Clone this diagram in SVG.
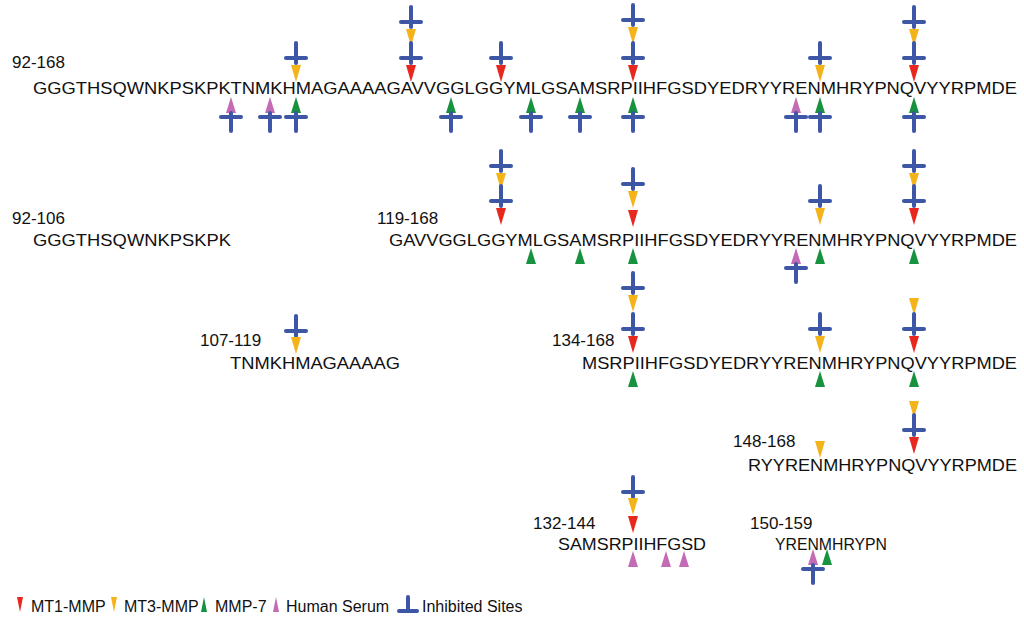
<svg xmlns="http://www.w3.org/2000/svg" xmlns:xlink="http://www.w3.org/1999/xlink" width="1024" height="619" viewBox="0 0 1024 619">
<style>
text{font-family:"Liberation Sans",Arial,sans-serif;fill:#111;}
.seq{font-size:17px;}
.lab{font-size:17px;}
.leg{font-size:16px;}
.inh{stroke:#3d56a6;stroke-width:4;stroke-linecap:round;fill:none;}
</style>
<defs>
<polygon id="dR" points="-5,0 5,0 0,17" fill="#e8271f"/>
<polygon id="dY" points="-5,0 5,0 0,17" fill="#f5b31a"/>
<polygon id="uG" points="-5,16 5,16 0,0" fill="#17923e"/>
<polygon id="uP" points="-5,16 5,16 0,0" fill="#c46bb5"/>
<g id="iA" class="inh"><line x1="0" y1="-15" x2="0" y2="5"/><line x1="-10" y1="0" x2="10" y2="0"/></g>
<g id="iB" class="inh"><line x1="0" y1="-4" x2="0" y2="14"/><line x1="-10" y1="0" x2="10" y2="0"/></g>
</defs>
<rect width="1024" height="619" fill="#fff"/>

<g id="row1">
<text class="lab" x="12" y="68">92-168</text>
<text class="seq" x="33" y="94" textLength="984" lengthAdjust="spacingAndGlyphs">GGGTHSQWNKPSKPKTNMKHMAGAAAAGAVVGGLGGYMLGSAMSRPIIHFGSDYEDRYYRENMHRYPNQVYYRPMDE</text>
</g>
<g id="row2a">
<text class="lab" x="12" y="224">92-106</text>
<text class="seq" x="33" y="246" textLength="198" lengthAdjust="spacingAndGlyphs">GGGTHSQWNKPSKPK</text>
</g>
<g id="row2b">
<text class="lab" x="377" y="224">119-168</text>
<text class="seq" x="389" y="246" textLength="628" lengthAdjust="spacingAndGlyphs">GAVVGGLGGYMLGSAMSRPIIHFGSDYEDRYYRENMHRYPNQVYYRPMDE</text>
</g>
<g id="row3a">
<text class="lab" x="200" y="346">107-119</text>
<text class="seq" x="230" y="369" textLength="170" lengthAdjust="spacingAndGlyphs">TNMKHMAGAAAAG</text>
</g>
<g id="row3b">
<text class="lab" x="552" y="346">134-168</text>
<text class="seq" x="582" y="369" textLength="435" lengthAdjust="spacingAndGlyphs">MSRPIIHFGSDYEDRYYRENMHRYPNQVYYRPMDE</text>
</g>
<g id="row4">
<text class="lab" x="733" y="447">148-168</text>
<text class="seq" x="748" y="471" textLength="269" lengthAdjust="spacingAndGlyphs">RYYRENMHRYPNQVYYRPMDE</text>
</g>
<g id="row5a">
<text class="lab" x="533" y="529">132-144</text>
<text class="seq" x="558" y="550" textLength="148" lengthAdjust="spacingAndGlyphs">SAMSRPIIHFGSD</text>
</g>
<g id="row5b">
<text class="lab" x="750" y="529">150-159</text>
<text class="seq" x="775" y="550" textLength="112" lengthAdjust="spacingAndGlyphs">YRENMHRYPN</text>
</g>

<g id="markers">
<use href="#iA" x="296" y="58"/><use href="#dY" x="296" y="65"/>
<use href="#iA" x="411" y="22"/><use href="#dY" x="411" y="29"/>
<use href="#iA" x="411" y="58"/><use href="#dR" x="411" y="65"/>
<use href="#iA" x="501" y="58"/><use href="#dR" x="501" y="65"/>
<use href="#iA" x="633" y="20"/><use href="#dY" x="633" y="27"/>
<use href="#iA" x="633" y="58"/><use href="#dR" x="633" y="65"/>
<use href="#iA" x="820" y="58"/><use href="#dY" x="820" y="65"/>
<use href="#iA" x="914" y="22"/><use href="#dY" x="914" y="29"/>
<use href="#iA" x="914" y="58"/><use href="#dR" x="914" y="65"/>
<use href="#uP" x="231" y="97"/><use href="#iB" x="231" y="117"/>
<use href="#uP" x="270" y="97"/><use href="#iB" x="270" y="117"/>
<use href="#uG" x="296" y="97"/><use href="#iB" x="296" y="117"/>
<use href="#uG" x="451" y="97"/><use href="#iB" x="451" y="117"/>
<use href="#uG" x="531" y="97"/><use href="#iB" x="531" y="117"/>
<use href="#uG" x="580" y="97"/><use href="#iB" x="580" y="117"/>
<use href="#uG" x="633" y="97"/><use href="#iB" x="633" y="117"/>
<use href="#uP" x="796" y="97"/><use href="#iB" x="796" y="117"/>
<use href="#uG" x="820" y="97"/><use href="#iB" x="820" y="117"/>
<use href="#uG" x="914" y="97"/><use href="#iB" x="914" y="117"/>
<use href="#iA" x="501" y="166"/><use href="#dY" x="501" y="173"/>
<use href="#iA" x="501" y="201"/><use href="#dR" x="501" y="208"/>
<use href="#iA" x="633" y="184"/><use href="#dY" x="633" y="191"/>
<use href="#dR" x="633" y="210"/>
<use href="#iA" x="820" y="201"/><use href="#dY" x="820" y="208"/>
<use href="#iA" x="914" y="166"/><use href="#dY" x="914" y="173"/>
<use href="#iA" x="914" y="201"/><use href="#dR" x="914" y="208"/>
<use href="#uG" x="531" y="248"/><use href="#uG" x="580" y="248"/><use href="#uG" x="633" y="248"/>
<use href="#uP" x="796" y="248"/><use href="#iB" x="796" y="268"/>
<use href="#uG" x="820" y="248"/><use href="#uG" x="914" y="248"/>
<use href="#iA" x="296" y="331"/><use href="#dY" x="296" y="337"/>
<use href="#iA" x="633" y="288"/><use href="#dY" x="633" y="295"/>
<use href="#iA" x="633" y="329"/><use href="#dR" x="633" y="336"/>
<use href="#iA" x="820" y="329"/><use href="#dY" x="820" y="336"/>
<use href="#dY" x="914" y="298"/>
<use href="#iA" x="914" y="329"/><use href="#dR" x="914" y="336"/>
<use href="#uG" x="633" y="371"/><use href="#uG" x="820" y="371"/><use href="#uG" x="914" y="371"/>
<use href="#dY" x="820" y="441"/>
<use href="#dY" x="914" y="401"/>
<use href="#iA" x="914" y="430"/><use href="#dR" x="914" y="437"/>
<use href="#iA" x="633" y="492"/><use href="#dY" x="633" y="498"/>
<use href="#dR" x="633" y="516"/>
<use href="#uP" x="633" y="551"/><use href="#uP" x="666" y="551"/><use href="#uP" x="684" y="551"/>
<use href="#uP" x="813" y="549"/><use href="#iB" x="813" y="569"/>
<use href="#uG" x="827" y="549"/>
</g>

<g id="legend">
<polygon points="17,597 23,597 20,612" fill="#e8271f"/>
<text class="leg" x="31" y="612">MT1-MMP</text>
<polygon points="111,597 117,597 114,612" fill="#f5b31a"/>
<text class="leg" x="124" y="612">MT3-MMP</text>
<polygon points="201,612 207,612 204,597" fill="#17923e"/>
<text class="leg" x="215" y="612">MMP-7</text>
<polygon points="273,612 279,612 276,597" fill="#c46bb5"/>
<text class="leg" x="286" y="612">Human Serum</text>
<g class="inh"><line x1="408" y1="597" x2="408" y2="610"/><line x1="399" y1="611" x2="417" y2="611"/></g>
<text class="leg" x="422" y="612">Inhibited Sites</text>
</g>
</svg>
